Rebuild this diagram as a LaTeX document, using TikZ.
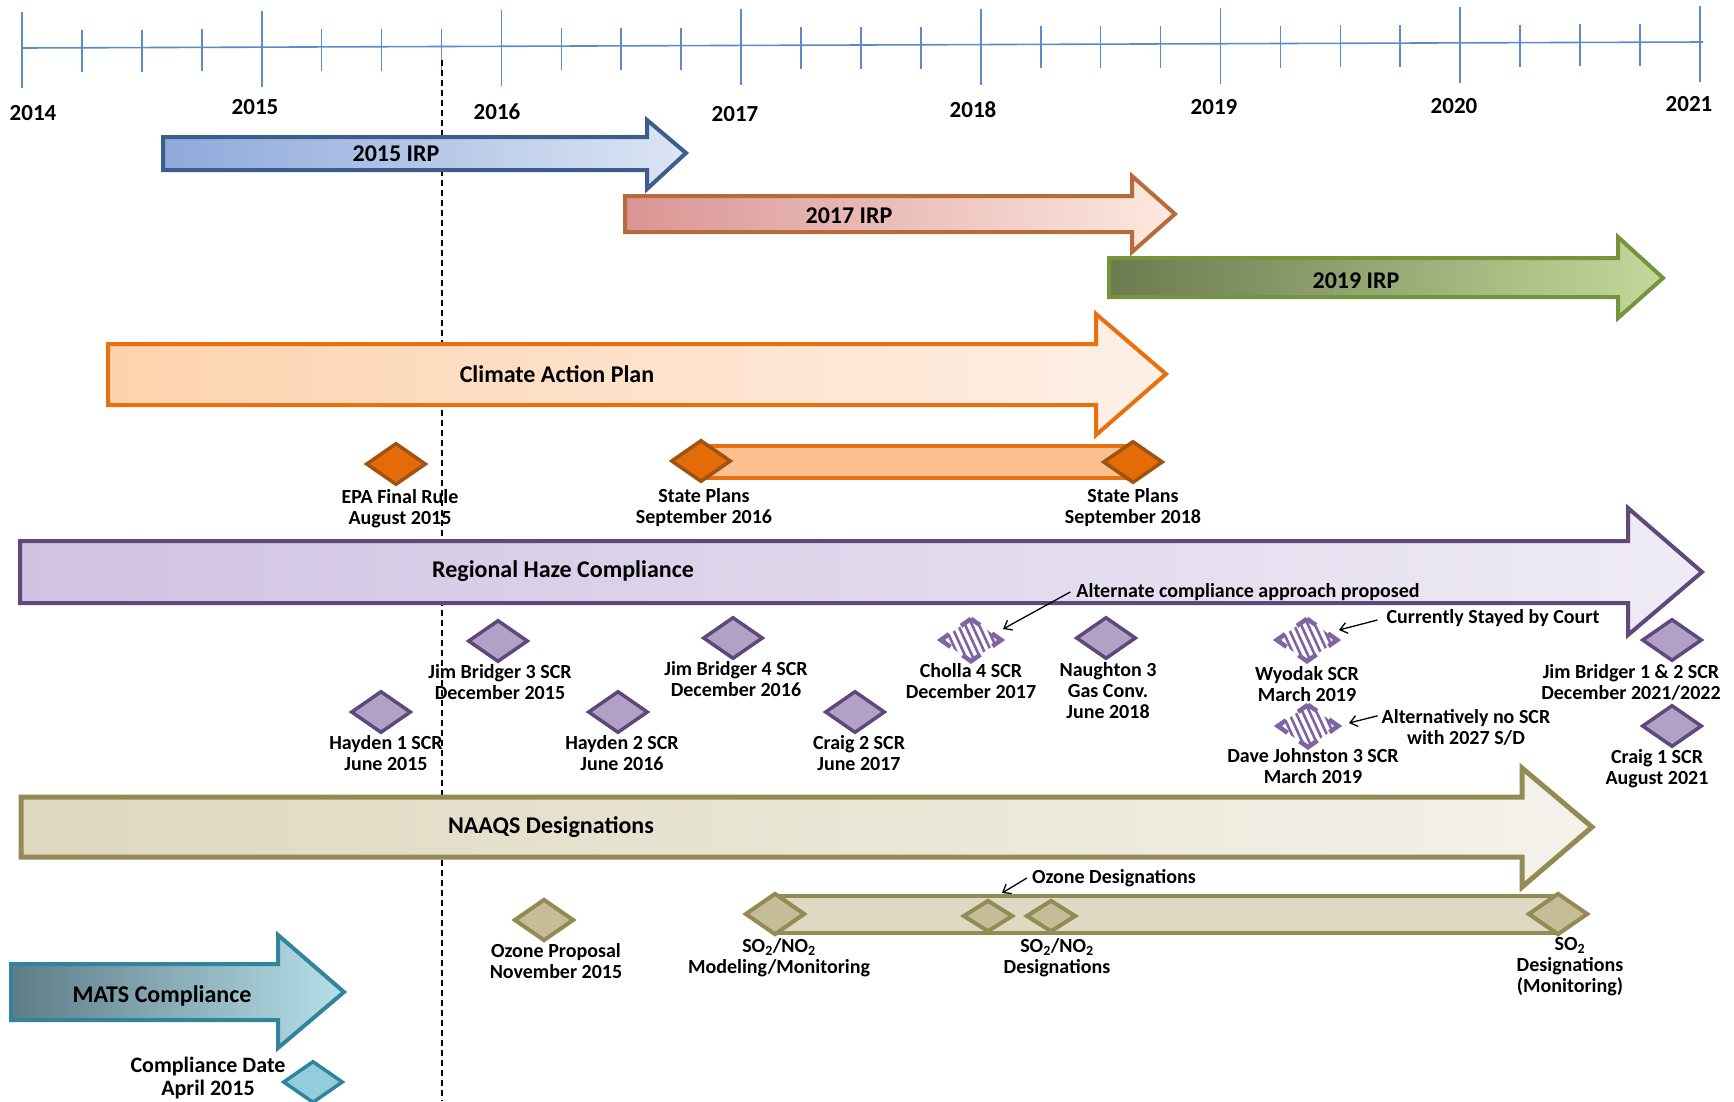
\documentclass[tikz,border=0pt]{standalone}
\usepackage{fontspec}
\setmainfont{Carlito}
\usetikzlibrary{shapes.geometric,arrows.meta}
\definecolor{axisc}{HTML}{5B8BC9}
\definecolor{irpAa}{HTML}{8EA9DB}\definecolor{irpAb}{HTML}{DCE5F4}\definecolor{irpAd}{HTML}{3B5E8C}
\definecolor{irpBa}{HTML}{D99594}\definecolor{irpBm}{HTML}{F8C8B0}\definecolor{irpBb}{HTML}{FDE9DF}\definecolor{irpBd}{HTML}{B86B3A}
\definecolor{irpCa}{HTML}{6B7B4F}\definecolor{irpCb}{HTML}{C3D89B}\definecolor{irpCd}{HTML}{77933C}
\definecolor{capa}{HTML}{FDD3AE}\definecolor{capb}{HTML}{FEF0E6}\definecolor{capd}{HTML}{E8700E}
\definecolor{rhca}{HTML}{D0C3E2}\definecolor{rhcb}{HTML}{EFEBF6}\definecolor{rhcd}{HTML}{5F497A}
\definecolor{naqa}{HTML}{DDD8BE}\definecolor{naqb}{HTML}{F4F2EA}\definecolor{naqd}{HTML}{948A54}
\definecolor{mata}{HTML}{5E7D87}\definecolor{matb}{HTML}{B7DFEA}\definecolor{matd}{HTML}{31849B}
\definecolor{orfill}{HTML}{E36C09}\definecolor{ordraw}{HTML}{A0520E}\definecolor{orbar}{HTML}{FAC090}
\definecolor{pufill}{HTML}{B2A1C7}\definecolor{pudraw}{HTML}{5F497A}\definecolor{hatchc}{HTML}{8064A2}
\definecolor{khfill}{HTML}{C4BD97}\definecolor{khbar}{HTML}{DDD9C3}
\definecolor{cyfill}{HTML}{93CDDD}
\newcommand\hatchdia[3]{%
  \node[diamond, minimum width=60pt, minimum height=42pt, inner sep=0pt] (#1) at (#2,#3) {};
  \begin{scope}
    \clip (#1.north) -- (#1.east) -- (#1.south) -- (#1.west) -- cycle;
    \foreach \k in {-48,-41,...,48}
      \draw[hatchc, line width=2.6pt] ([xshift=\k pt]#1.center) +(-11pt,24pt) -- +(11pt,-24pt);
  \end{scope}
  \draw[hatchc, line width=4.5pt, dash pattern=on 22pt off 14.6pt, dash phase=11pt]
    (#1.north) -- (#1.east) -- (#1.south) -- (#1.west) -- cycle;
}
\begin{document}
\begin{tikzpicture}[x=1pt,y=-1pt,
  lbl/.style={font=\fontsize{20}{21}\selectfont\bfseries, align=center, inner sep=0pt},
  big/.style={font=\fontsize{24}{28}\selectfont\bfseries, inner sep=0pt},
  yr/.style={font=\fontsize{23}{28}\selectfont\bfseries, inner sep=0pt},
  dia/.style={diamond, minimum width=60pt, minimum height=42pt, inner sep=0pt, line width=3.5pt},
  odia/.style={dia, fill=orfill, draw=ordraw},
  pdia/.style={dia, fill=pufill, draw=pudraw},
  kdia/.style={dia, fill=khfill, draw=naqd, line width=4pt},
  kdias/.style={kdia, minimum width=50pt, minimum height=32pt},
  note/.style={-{Straight Barb[length=7pt,width=11pt]}, line width=1.3pt, black},
  barline/.style={line width=4pt, line join=miter}
]
\useasboundingbox (0,0) rectangle (1734,1101);
\fill[white] (0,0) rectangle (1734,1101);

% time axis
\draw[axisc, line width=1.6pt] (22,48) -- (1703,42);
\foreach \i in {0,...,28} {
  \pgfmathsetmacro\xx{22+59.925*\i}
  \pgfmathsetmacro\yy{48-6*(\xx-22)/1681}
  \pgfmathtruncatemacro\mm{mod(\i,4)}
  \ifnum\mm=0
    \pgfmathsetmacro\ya{\yy-36}\pgfmathsetmacro\yb{\yy+40}
  \else
    \pgfmathsetmacro\ya{\yy-18}\pgfmathsetmacro\yb{\yy+24}
  \fi
  \draw[axisc, line width=1.6pt] (\xx,\ya) -- (\xx,\yb);
}
\node[yr] (y2014) at (33,113) {2014};
\node[yr] (y2015) at (255,107) {2015};
\node[yr] (y2016) at (497,112) {2016};
\node[yr] (y2017) at (735,114) {2017};
\node[yr] (y2018) at (973,110) {2018};
\node[yr] (y2019) at (1214,107) {2019};
\node[yr] (y2020) at (1454,106) {2020};
\node[yr] (y2021) at (1689,104) {2021};

% today line
\draw[black, line width=1.3pt, dash pattern=on 6pt off 4pt] (442,60) -- (442,1101);

% IRP arrows
\shadedraw[left color=irpAa, right color=irpAb, draw=irpAd, barline]
  (163,137) -- (647,137) -- (647,120) -- (686,153) -- (647,189) -- (647,170) -- (163,170) -- cycle;
\node[big] (irp15) at (396,154) {2015 IRP};
\shadedraw[left color=irpBa, middle color=irpBm, right color=irpBb, draw=irpBd, barline]
  (625,196) -- (1132,196) -- (1132,176) -- (1175,214) -- (1132,252) -- (1132,232) -- (625,232) -- cycle;
\node[big] (irp17) at (849,216) {2017 IRP};
\shadedraw[left color=irpCa, right color=irpCb, draw=irpCd, barline]
  (1109,258) -- (1618,258) -- (1618,237) -- (1663,278) -- (1618,318) -- (1618,297) -- (1109,297) -- cycle;
\node[big] (irp19) at (1356,281) {2019 IRP};

% Climate Action Plan
\shadedraw[left color=capa, right color=capb, draw=capd, barline]
  (108,344) -- (1096,344) -- (1096,314) -- (1166,374) -- (1096,435) -- (1096,405) -- (108,405) -- cycle;
\node[big] (cap) at (557,374) {Climate Action Plan};
\draw[fill=orbar, draw=capd, line width=4pt] (701,446) rectangle (1133,478);
\node[odia] (epa) at (396,464) {};
\node[odia] (sp16) at (701,461) {};
\node[odia] (sp18) at (1133,462) {};
\node[lbl] (epal) at (400,509) {EPA Final Rule\\August 2015};
\node[lbl] (sp16l) at (704,508) {State Plans\\September 2016};
\node[lbl] (sp18l) at (1133,508) {State Plans\\September 2018};

% Regional Haze
\shadedraw[left color=rhca, right color=rhcb, draw=rhcd, barline]
  (20,541) -- (1628,541) -- (1628,508) -- (1702,572) -- (1628,635) -- (1628,603) -- (20,603) -- cycle;
\node[big] (rhc) at (563,571) {Regional Haze Compliance};

\node[pdia] (hay1) at (381,712) {};
\node[pdia] (jb3) at (498,641) {};
\node[pdia] (hay2) at (618,712) {};
\node[pdia] (jb4) at (733,638) {};
\node[pdia] (cra2) at (855,712) {};
\hatchdia{cho4}{971}{640}
\node[pdia] (nau3) at (1106,638) {};
\hatchdia{wyo}{1307}{640}
\hatchdia{dj3}{1308}{726}
\node[pdia] (jb12) at (1672,640) {};
\node[pdia] (cra1) at (1672,726) {};

\node[lbl] (hay1l) at (386,753) {Hayden 1 SCR\\June 2015};
\node[lbl] (jb3l) at (500,682) {Jim Bridger 3 SCR\\December 2015};
\node[lbl] (hay2l) at (622,753) {Hayden 2 SCR\\June 2016};
\node[lbl] (jb4l) at (736,679) {Jim Bridger 4 SCR\\December 2016};
\node[lbl] (cra2l) at (859,753) {Craig 2 SCR\\June 2017};
\node[lbl] (cho4l) at (971,681) {Cholla 4 SCR\\December 2017};
\node[lbl] (nau3l) at (1108,691) {Naughton 3\\Gas Conv.\\June 2018};
\node[lbl] (wyol) at (1307,684) {Wyodak SCR\\March 2019};
\node[lbl] (dj3l) at (1313,766) {Dave Johnston 3 SCR\\March 2019};
\node[lbl] (jb12l) at (1631,682) {Jim Bridger 1 \& 2 SCR\\December 2021/2022};
\node[lbl] (cra1l) at (1657,769) {Craig 1 SCR\\August 2021};

\node[lbl] (altn) at (1248,592) {Alternate compliance approach proposed};
\node[lbl] (stay) at (1493,618) {Currently Stayed by Court};
\node[lbl] (alts) at (1466,727) {Alternatively no SCR\\with 2027 S/D};
\coordinate (chot) at (1003,629);
\coordinate (wyot) at (1339,630);
\coordinate (djt) at (1349,723);
\draw[note] ([xshift=-6pt]altn.west) -- (chot);
\draw[note] ([xshift=-9pt,yshift=-2pt]stay.west) -- (wyot);
\draw[note] ([xshift=-4pt,yshift=-7pt]alts.north west) -- (djt);

% NAAQS
\shadedraw[left color=naqa, right color=naqb, draw=naqd, line width=5pt, line join=miter]
  (21,797) -- (1522,797) -- (1522,768) -- (1592,827) -- (1522,887) -- (1522,857) -- (21,857) -- cycle;
\node[big] (naq) at (551,827) {NAAQS Designations};
\draw[fill=khbar, draw=naqd, line width=4.5pt] (775,896) rectangle (1557,933);
\node[kdia] (ozp) at (544,920) {};
\node[kdia] (som) at (775,914) {};
\node[kdias] (ozd1) at (988,916) {};
\node[kdias] (ozd2) at (1051,916) {};
\node[kdia] (sod) at (1558,914) {};
\node[lbl] (ozpl) at (556,961) {Ozone Proposal\\November 2015};
\node[lbl] (soml) at (779,958) {SO\textsubscript{2}/NO\textsubscript{2}\\Modeling/Monitoring};
\node[lbl] (ozdl) at (1114,878) {Ozone Designations};
\node[lbl] (sondl) at (1057,958) {SO\textsubscript{2}/NO\textsubscript{2}\\Designations};
\node[lbl] (sodl) at (1570,967) {SO\textsubscript{2}\\Designations\\(Monitoring)};
\coordinate (ozt) at (1002,893);
\draw[note] ([xshift=-5pt]ozdl.west) -- (ozt);

% MATS
\shadedraw[left color=mata, right color=matb, draw=matd, barline]
  (11,964) -- (278,964) -- (278,935) -- (344,992) -- (278,1048) -- (278,1020) -- (11,1020) -- cycle;
\node[big] (mats) at (162,996) {MATS Compliance};
\node[dia, fill=cyfill, draw=matd] (mcd) at (313,1082) {};
\node[lbl, font=\fontsize{22}{23}\selectfont\bfseries] (mcdl) at (208,1078) {Compliance Date\\April 2015};
\end{tikzpicture}
\end{document}
